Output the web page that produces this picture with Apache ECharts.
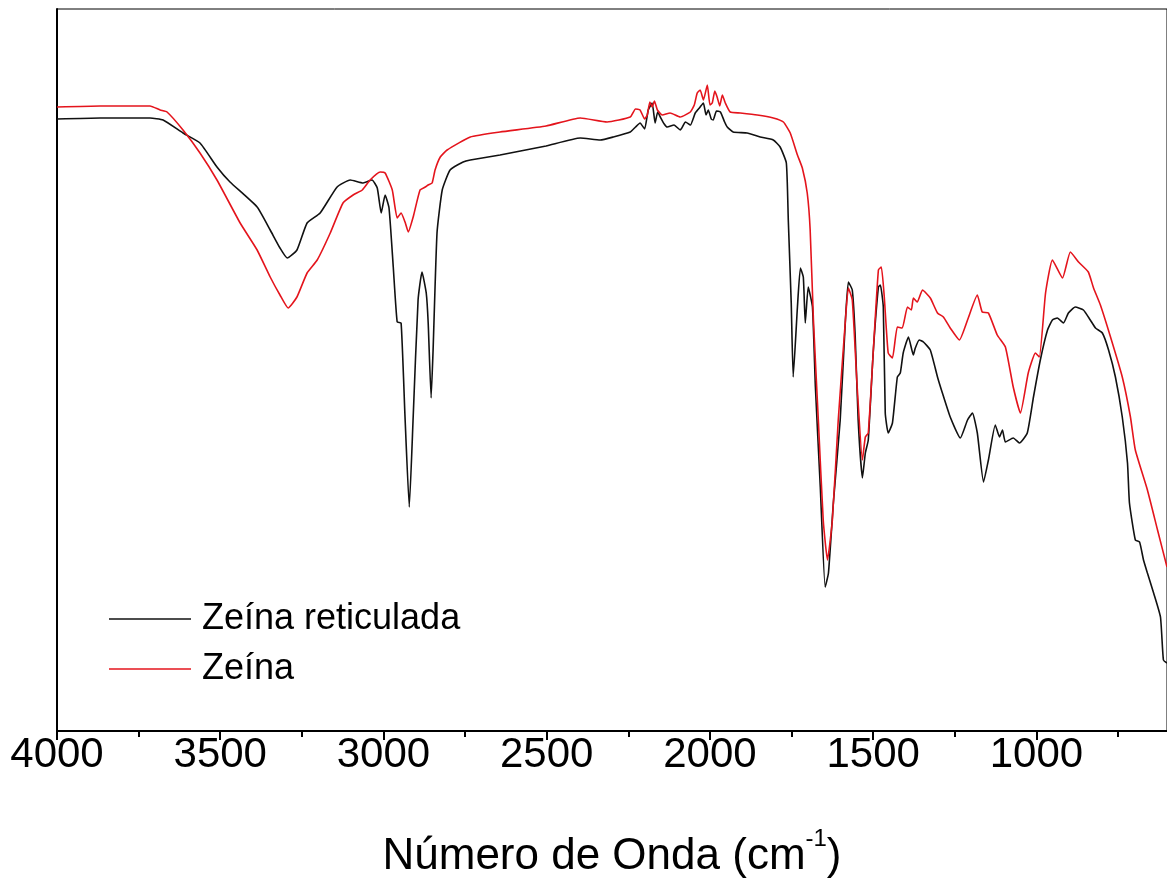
<!DOCTYPE html>
<html>
<head>
<meta charset="utf-8">
<script src="https://cdn.jsdelivr.net/npm/echarts@6/dist/echarts.min.js"></script>
<style>
html,body{margin:0;padding:0;background:#fff;}
#chart{width:1167px;height:878px;}
</style>
</head>
<body>
<div id="chart"></div>
<script>
// Wavenumber (cm-1) and relative transmittance (arbitrary units)
const wnReticulada = [4000,3868,3715,3675,3614,3562,3510,3470,3387,3347,3317,3295,3265,3234,3194,3142,3102,3062,3035,3019,3007,2995,2983,2970,2958,2946,2934,2921,2909,2894,2882,2869,2863,2854,2848,2836,2820,2796,2756,2734,2643,2502,2397,2336,2296,2244,2228,2214,2200,2189,2177,2168,2160,2152,2140,2131,2110,2091,2075,2060,2045,2030,2020,2012,2005,1996,1990,1980,1968,1955,1947,1929,1886,1846,1806,1785,1766,1760,1751,1745,1732,1723,1714,1708,1699,1686,1677,1662,1647,1637,1622,1601,1585,1576,1564,1555,1546,1533,1524,1515,1500,1484,1478,1469,1463,1454,1441,1426,1417,1408,1392,1377,1371,1359,1346,1325,1303,1288,1264,1233,1211,1196,1181,1162,1147,1126,1113,1104,1095,1071,1052,1028,1009,988,966,951,936,917,902,881,856,835,819,798,779,758,737,721,715,697,684,672,660,641,620,611,600];
const tReticulada = [61.2,61.3,61.3,61.1,59.8,58.8,56.4,54.9,52.4,50.1,48.3,47.3,48.1,50.8,51.8,54.4,55.1,54.8,55.1,54.3,51.8,53.6,52.3,46.4,40.9,40.8,31.4,22.4,31.4,43.1,45.9,43.8,40.8,33.3,38.1,49.8,54.1,56.1,56.9,57.1,57.6,58.5,59.3,59.1,59.4,59.9,60.4,60.8,60.2,62.1,62.8,60.8,61.9,61.4,60.7,60.4,60.6,60.1,60.9,60.6,61.8,62.4,62.8,61.6,62.1,61.2,61.1,62.0,61.9,60.9,60.4,59.9,59.8,59.4,59.1,58.4,56.8,51.1,42.8,35.4,42.4,46.3,45.4,40.8,44.4,42.4,34.4,24.4,14.4,15.8,22.8,31.1,41.1,44.9,44.1,39.4,31.1,25.3,27.8,29.1,37.8,44.4,44.6,42.4,31.8,29.8,30.8,35.4,35.8,37.8,39.4,37.6,38.3,39.1,38.9,38.1,35.4,33.8,31.4,29.3,31.1,31.8,29.8,24.9,27.1,30.6,29.4,30.1,28.9,29.3,28.8,29.8,33.4,37.1,40.1,41.1,41.3,40.8,41.8,42.4,42.1,41.1,40.3,39.8,38.1,35.4,31.4,26.8,22.8,19.1,18.9,17.1,15.8,13.8,11.4,7.1,6.8];

const wnZeina = [4000,3868,3715,3684,3663,3614,3562,3510,3439,3387,3347,3317,3292,3265,3234,3203,3163,3124,3093,3065,3041,3010,2995,2973,2958,2946,2934,2924,2909,2888,2872,2863,2851,2842,2826,2805,2734,2643,2502,2397,2315,2244,2228,2214,2200,2192,2184,2177,2170,2161,2146,2122,2091,2060,2048,2039,2030,2020,2008,2000,1993,1985,1978,1970,1962,1953,1938,1907,1855,1806,1775,1754,1732,1717,1702,1693,1683,1668,1653,1640,1625,1607,1585,1576,1564,1549,1533,1524,1515,1500,1484,1475,1466,1454,1441,1426,1411,1395,1383,1377,1365,1349,1325,1303,1285,1264,1236,1211,1181,1166,1147,1120,1095,1071,1049,1025,1003,991,972,951,920,896,871,841,825,804,773,737,712,697,660,629,600];
const tZeina = [62.4,62.5,62.5,62.1,61.9,60.1,57.8,55.1,50.8,48.1,45.4,43.6,42.3,43.4,45.8,47.1,49.8,52.8,53.6,54.1,55.1,55.9,55.8,54.1,51.3,51.8,50.9,49.9,51.4,54.1,54.4,54.6,54.8,56.1,57.4,58.1,59.4,59.9,60.5,61.3,60.9,61.4,62.2,62.1,61.2,61.6,62.9,62.4,63.0,62.1,61.6,61.8,61.4,61.9,62.6,63.8,64.1,63.1,64.6,62.6,62.8,64.0,63.4,62.5,63.6,62.8,61.9,61.8,61.6,61.3,60.9,59.8,57.6,56.3,53.8,50.1,41.1,31.1,21.1,17.1,21.1,31.1,41.1,44.3,43.1,34.4,27.1,29.4,29.8,37.8,46.1,46.4,43.4,37.8,37.3,40.4,40.3,42.4,42.1,43.3,42.9,44.1,43.3,41.8,41.4,40.3,39.1,41.1,43.6,41.9,41.8,39.6,38.4,34.4,31.8,35.8,37.8,37.4,43.8,47.1,45.3,47.9,46.9,45.9,44.3,42.6,39.4,35.4,31.4,28.1,24.1,20.1,16.4];

const majorTicks = [4000,3500,3000,2500,2000,1500,1000];
const minorTicks = [3750,3250,2750,2250,1750,1250,750];
const seriesNames = ['Zeína reticulada','Zeína'];

const pair = (xs, ys) => xs.map((x, i) => [x, ys[i]]);
const FONT = 'Liberation Sans';

const chart = echarts.init(document.getElementById('chart'), null, {renderer: 'canvas'});
chart.setOption({
  animation: false,
  backgroundColor: '#ffffff',
  textStyle: {fontFamily: FONT},
  grid: {left: 57, right: 0, top: 9, bottom: 147, show: true, borderColor: '#000', borderWidth: 1,
    outerBoundsMode: 'none', containLabel: false},
  legend: {
    orient: 'vertical', left: 104, top: 596, itemGap: 14,
    icon: 'rect', itemWidth: 82, itemHeight: 1.5,
    textStyle: {fontFamily: FONT, fontSize: 36, color: '#000', padding: [0, 0, 0, 6]},
    data: seriesNames
  },
  xAxis: [{
    type: 'value', inverse: true, min: 600, max: 4000,
    position: 'bottom',
    axisLine: {show: true, onZero: false, lineStyle: {color: '#000', width: 2}},
    axisTick: {show: true, length: 9, customValues: majorTicks, lineStyle: {color: '#000', width: 2}},
    axisLabel: {show: true, customValues: majorTicks, fontSize: 42, color: '#000', margin: 3, fontFamily: FONT,
      formatter: v => String(v)},
    splitLine: {show: false},
    name: '{a|Número de Onda (cm}{s|-1}{a|)}',
    nameLocation: 'middle', nameGap: 96,
    nameTextStyle: {rich: {
      a: {fontSize: 44, fontFamily: FONT, color: '#000', verticalAlign: 'bottom', lineHeight: 52},
      s: {fontSize: 24, fontFamily: FONT, color: '#000', verticalAlign: 'top', lineHeight: 52, padding: [0, 0, 24, 0]}
    }}
  }, {
    type: 'value', inverse: true, min: 600, max: 4000,
    position: 'bottom',
    axisLine: {show: false, onZero: false},
    axisTick: {show: true, length: 6, customValues: minorTicks, lineStyle: {color: '#000', width: 2}},
    axisLabel: {show: false},
    splitLine: {show: false}
  }],
  yAxis: {
    type: 'value', min: 0, max: 72.2,
    axisLine: {show: true, lineStyle: {color: '#000', width: 2}},
    axisTick: {show: false}, axisLabel: {show: false}, splitLine: {show: false}
  },
  series: [{
    name: seriesNames[0], type: 'line', xAxisIndex: 0, showSymbol: false, symbol: 'none',
    smooth: 0.15,
    lineStyle: {color: '#111111', width: 1.6}, itemStyle: {color: '#111111'},
    data: pair(wnReticulada, tReticulada)
  }, {
    name: seriesNames[1], type: 'line', xAxisIndex: 0, showSymbol: false, symbol: 'none',
    smooth: 0.15,
    lineStyle: {color: '#e4141c', width: 1.6}, itemStyle: {color: '#e4141c'},
    data: pair(wnZeina, tZeina)
  }]
});
</script>
</body>
</html>
